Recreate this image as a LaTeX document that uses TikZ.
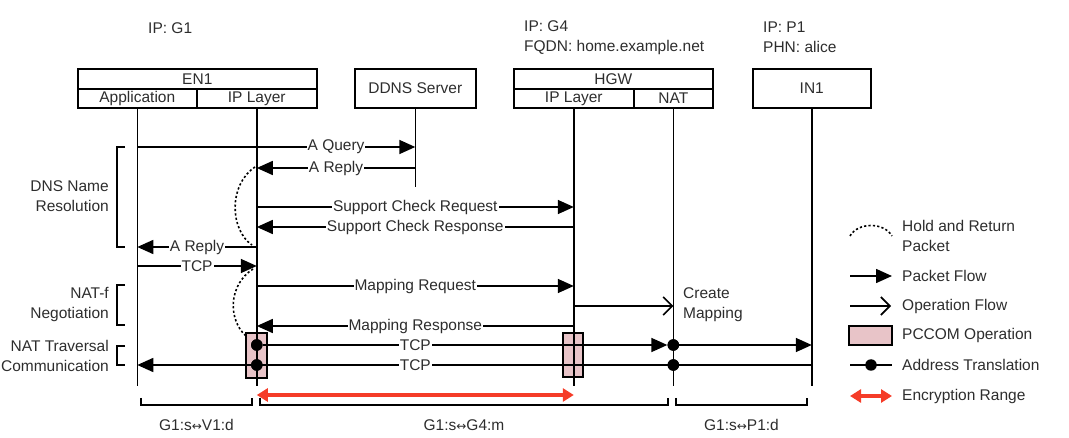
\documentclass[tikz,border=0pt]{standalone}
\usepackage{fontspec}
\setmainfont{Liberation Sans}
\newfontfamily\dvsans{DejaVu Sans}
\newcommand{\lrarr}{{\dvsans\fontsize{12}{12}\selectfont ↔}}
\usetikzlibrary{arrows.meta,calc}
\definecolor{txt}{RGB}{45,45,45}
\definecolor{pccomfill}{RGB}{232,196,200}
\definecolor{encred}{RGB}{245,60,40}
\begin{document}
\begin{tikzpicture}[x=1pt,y=-1pt,
  font=\fontsize{15.5}{20}\selectfont, text=txt,
  cell/.style={draw, line width=1.6pt, inner sep=0pt, anchor=north west, text=txt},
  plain/.style={inner sep=0pt, text=txt},
  life/.style={line width=1.6pt},
  msg/.style={line width=1.6pt, -{Triangle[length=16pt,width=14pt]}},
  lbl/.style={fill=white, inner sep=1pt, text=txt},
  op/.style={line width=1.6pt, -{Straight Barb[length=9pt,width=18pt,line width=1.6pt]}},
  hold/.style={line width=1.6pt, dash pattern=on 2.2pt off 2.2pt},
  pccom/.style={draw, line width=1.4pt, fill=pccomfill, inner sep=0pt},
  xdot/.style={circle, fill=black, inner sep=0pt, minimum size=11.5pt},
  enc/.style={draw=encred, line width=3.8pt, {Triangle[length=11pt,width=13pt]}-{Triangle[length=11pt,width=13pt]}},
  brk/.style={line width=1.6pt},
]
\useasboundingbox (0,0) rectangle (1069,438);

% ---- header texts
\node[plain, anchor=west] (ipg1) at (148,28) {IP: G1};
\node[plain, anchor=west, align=left] (ipg4) at (524,37.5) {IP: G4\\FQDN: home.example.net};
\node[plain, anchor=west, align=left] (ipp1) at (763,37.5) {IP: P1\\PHN: alice};

% ---- header boxes
\node[cell, minimum width=239pt, minimum height=20pt] (en1) at (77,68) {EN1};
\node[cell, minimum width=119pt, minimum height=19pt] (app) at (77,88) {Application};
\node[cell, minimum width=120pt, minimum height=19pt] (ipl) at (196,88) {IP Layer};
\node[cell, minimum width=121pt, minimum height=39pt] (ddns) at (354,68) {DDNS Server};
\node[cell, minimum width=199pt, minimum height=20pt] (hgw) at (513,68) {HGW};
\node[cell, minimum width=120pt, minimum height=19pt] (hgwip) at (513,88) {IP Layer};
\node[cell, minimum width=79pt, minimum height=19pt] (nat) at (633,88) {NAT};
\node[cell, minimum width=118pt, minimum height=39pt] (in1) at (752,68) {IN1};

% ---- y levels
\coordinate (yEnd) at (0,386);
\coordinate (yDd) at (0,187);
\coordinate (y1) at (0,147);
\coordinate (y2) at (0,168);
\coordinate (y3) at (0,207);
\coordinate (y4) at (0,227);
\coordinate (y5) at (0,247);
\coordinate (y6) at (0,266);
\coordinate (y7) at (0,286);
\coordinate (y8) at (0,306);
\coordinate (y9) at (0,326);
\coordinate (y10) at (0,345);
\coordinate (y11) at (0,365);
\coordinate (yE) at (0,395);

% ---- PCCOM boxes (behind)
\node[pccom, minimum width=21pt, minimum height=45pt] (pc1) at (256.5,355.5) {};
\node[pccom, minimum width=20pt, minimum height=44pt] (pc2) at (573,355) {};

% ---- lifelines
\draw[life] (app.south) -- (app |- yEnd);
\draw[life] (ipl.south) -- (ipl |- yEnd);
\draw[life] (ddns.south) -- (ddns |- yDd);
\draw[life] (hgwip.south) -- (hgwip |- yEnd);
\draw[life] (nat.south) -- (nat |- yEnd);
\draw[life] (in1.south) -- (in1 |- yEnd);

% ---- messages
\draw[msg] (app |- y1) -- (ddns |- y1);
\node[lbl] (l1) at ($(ipl |- y1)!0.5!(ddns |- y1)$) {A Query};
\draw[msg] (ddns |- y2) -- (ipl |- y2);
\node[lbl] (l2) at ($(ipl |- y2)!0.5!(ddns |- y2)$) {A Reply};
\draw[msg] (ipl |- y3) -- (hgwip |- y3);
\node[lbl] (l3) at ($(ipl |- y3)!0.5!(hgwip |- y3)$) {Support Check Request};
\draw[msg] (hgwip |- y4) -- (ipl |- y4);
\node[lbl] (l4) at ($(ipl |- y4)!0.5!(hgwip |- y4)$) {Support Check Response};
\draw[msg] (ipl |- y5) -- (app |- y5);
\node[lbl] (l5) at ($(app |- y5)!0.5!(ipl |- y5)$) {A Reply};
\draw[msg] (app |- y6) -- (ipl |- y6);
\node[lbl] (l6) at ($(app |- y6)!0.5!(ipl |- y6)$) {TCP};
\draw[msg] (ipl |- y7) -- (hgwip |- y7);
\node[lbl] (l7) at ($(ipl |- y7)!0.5!(hgwip |- y7)$) {Mapping Request};
\draw[op] (hgwip |- y8) -- (nat |- y8);
\node[plain, anchor=west, align=left] (cm) at (683,305) {Create\\Mapping};
\draw[msg] (hgwip |- y9) -- (ipl |- y9);
\node[lbl] (l9) at ($(ipl |- y9)!0.5!(hgwip |- y9)$) {Mapping Response};

% ---- TCP with address translation
\node[xdot] (d1) at (ipl |- y10) {};
\node[xdot] (d2) at (nat |- y10) {};
\node[xdot] (d3) at (ipl |- y11) {};
\node[xdot] (d4) at (nat |- y11) {};
\draw[msg] (d1) -- (d2);
\draw[msg] (d2) -- (in1 |- y10);
\node[lbl] (l10) at ($(ipl |- y10)!0.5!(hgwip |- y10)$) {TCP};
\draw[msg] (in1 |- y11) -- (app |- y11);
\node[lbl] (l11) at ($(ipl |- y11)!0.5!(hgwip |- y11)$) {TCP};
\node[xdot] at (d1) {};
\node[xdot] at (d2) {};
\node[xdot] at (d3) {};
\node[xdot] at (d4) {};

% ---- hold and return
\coordinate (h1a) at (255,167);
\coordinate (h1b) at (252,245);
\coordinate (h2a) at (253,269);
\coordinate (h2b) at (246,336);
\draw[hold] (h1a) .. controls (228,185) and (230,230) .. (h1b);
\draw[hold] (h2a) .. controls (228,285) and (228,320) .. (h2b);

% ---- encryption range
\draw[enc] (ipl |- yE) -- (hgwip |- yE);

% ---- left brackets
\draw[brk] (125,147) -- (117,147) -- (117,247) -- (125,247);
\draw[brk] (125,285) -- (117,285) -- (117,325) -- (125,325);
\draw[brk] (125,346) -- (117,346) -- (117,365) -- (125,365);
\node[plain, anchor=east, align=right] (dns) at (109,196) {DNS Name\\Resolution};
\node[plain, anchor=east, align=right] (natf) at (109,305) {NAT-f\\Negotiation};
\node[plain, anchor=east, align=right] (natt) at (109,356) {NAT Traversal\\Communication};

% ---- bottom brackets
\draw[brk] (141,398) -- (141,405) -- (252,405) -- (252,398);
\draw[brk] (260,398) -- (260,405) -- (668,405) -- (668,398);
\draw[brk] (676,398) -- (676,405) -- (807,405) -- (807,398);
\node[plain] (b1) at (196.5,425) {G1:s\lrarr V1:d};
\node[plain] (b2) at (464,425) {G1:s\lrarr G4:m};
\node[plain] (b3) at (741.5,425) {G1:s\lrarr P1:d};

% ---- legend
\coordinate (la1) at (850,236);
\coordinate (la2) at (892,236);
\draw[hold] (la1) .. controls (858,222) and (884,222) .. (la2);
\node[plain, anchor=west, align=left] (lg1) at (902,235.5) {Hold and Return\\Packet};
\coordinate (lb1) at (850,276);
\coordinate (lb2) at (892,276);
\draw[msg] (lb1) -- (lb2);
\node[plain, anchor=west] (lg2) at (902,276) {Packet Flow};
\coordinate (lc1) at (850,306);
\coordinate (lc2) at (891,306);
\draw[op] (lc1) -- (lc2);
\node[plain, anchor=west] (lg3) at (902,306) {Operation Flow};
\node[pccom, minimum width=43pt, minimum height=19pt] (lpc) at (870.5,335.5) {};
\node[plain, anchor=west] (lg4) at (902,335.5) {PCCOM Operation};
\coordinate (ld1) at (850,365);
\coordinate (ld2) at (892,365);
\draw[life] (ld1) -- (ld2);
\node[xdot] (ldot) at ($(ld1)!0.5!(ld2)$) {};
\node[plain, anchor=west] (lg5) at (902,365) {Address Translation};
\coordinate (le1) at (850,396);
\coordinate (le2) at (892,396);
\draw[enc] (le1) -- (le2);
\node[plain, anchor=west] (lg6) at (902,396) {Encryption Range};
\end{tikzpicture}
\end{document}
